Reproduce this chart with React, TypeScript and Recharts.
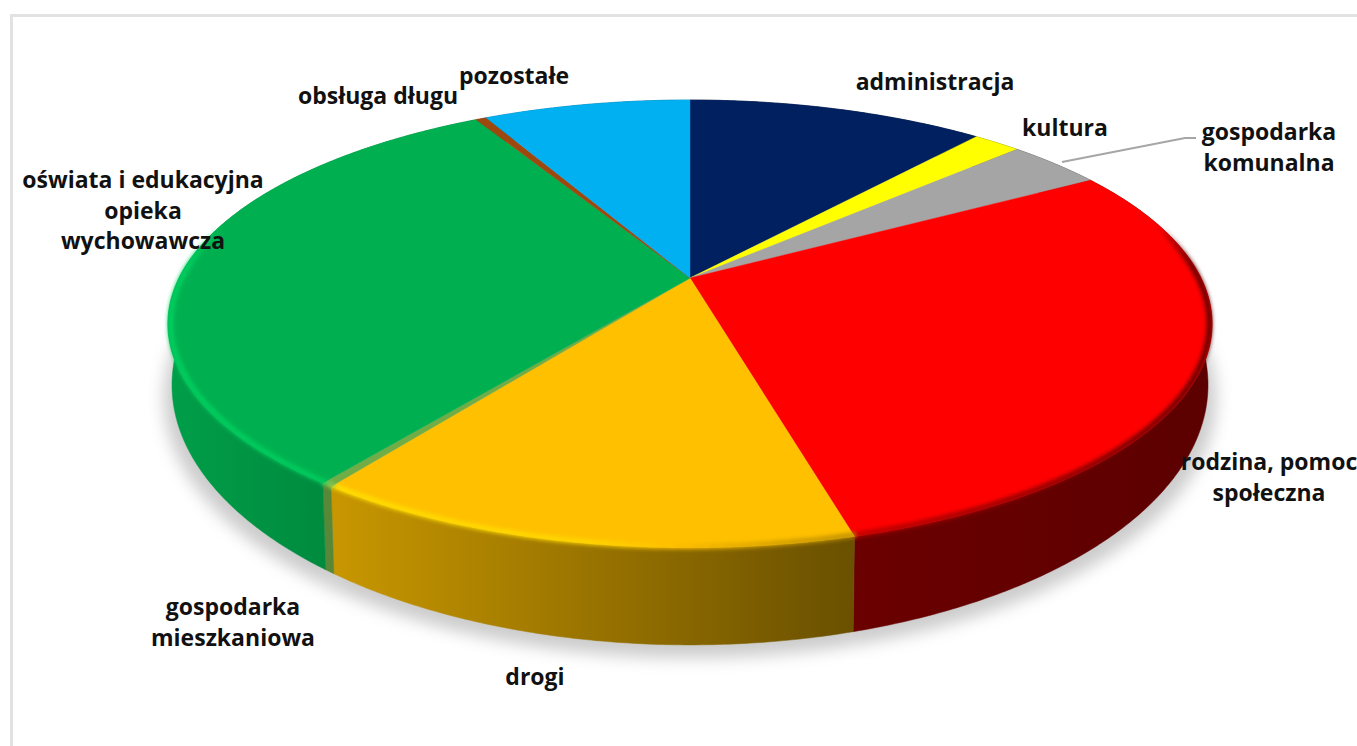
import { PieChart, Pie } from "recharts";

// budget shares in percent
const categories = [
  "administracja",
  "kultura",
  "gospodarka komunalna",
  "rodzina, pomoc społeczna",
  "drogi",
  "gospodarka mieszkaniowa",
  "oświata i edukacyjna opieka wychowawcza",
  "obsługa długu",
  "pozostałe",
];
const values = [11.2, 1.8, 3.6, 29.2, 14.1, 0.3, 31.5, 0.4, 7.8];
const colors = [
  "#002060",
  "#ffff00",
  "#a5a5a5",
  "#ff0000",
  "#ffc000",
  "#70ad47",
  "#00b050",
  "#9e480e",
  "#00b0f0",
];

const labelLines = [
  ["administracja"],
  ["kultura"],
  ["gospodarka", "komunalna"],
  ["rodzina, pomoc", "społeczna"],
  ["drogi"],
  ["gospodarka", "mieszkaniowa"],
  ["oświata i edukacyjna", "opieka", "wychowawcza"],
  ["obsługa długu"],
  ["pozostałe"],
];
// centre x and first baseline of each label
const labelSpots = [
  [935, 90],
  [1065, 136],
  [1269, 140],
  [1269, 470],
  [535, 685],
  [233, 615],
  [143, 188],
  [378, 104],
  [514, 84],
];

const data = categories.map((name, i) => ({
  name,
  value: values[i],
  fill: colors[i],
}));

// perspective of the tilted disc
const CX = 690;
const CY = 278;
const A = 511;
const B = 214.5;
const P = 0.205;
// underside of the disc, same vanishing but its own ellipse
const BASE_A = 507;
const BASE_B = 249;
const BASE_CY = 331.7;

type Disc = { a: number; b: number; cy: number };
const TOP: Disc = { a: A, b: B, cy: CY };
const BASE: Disc = { a: BASE_A, b: BASE_B, cy: BASE_CY };
const SHADOW: Disc = { a: BASE_A + 8, b: BASE_B, cy: BASE_CY + 13 };

const project = (deg: number, disc: Disc = TOP, scale = 1) => {
  const t = (deg * Math.PI) / 180;
  const w = 1 + P * Math.sin(t);
  return [
    CX + (scale * disc.a * Math.cos(t)) / w,
    disc.cy - (scale * disc.b * Math.sin(t)) / w,
  ];
};

const arcPoints = (start: number, end: number, disc: Disc = TOP) => {
  const n = Math.max(2, Math.ceil(Math.abs(end - start) / 0.5));
  const pts: number[][] = [];
  for (let i = 0; i <= n; i++) {
    pts.push(project(start + ((end - start) * i) / n, disc));
  }
  return pts;
};

const toD = (pts: number[][]) =>
  pts.map((p, i) => `${i ? "L" : "M"}${p[0].toFixed(2)} ${p[1].toFixed(2)}`).join(" ");

const shade = (hex: string, k: number) => {
  const c = [1, 3, 5].map((i) => parseInt(hex.slice(i, i + 2), 16));
  const out = c.map((v) => Math.min(255, Math.round(v * k)));
  return `rgb(${out[0]},${out[1]},${out[2]})`;
};

const lerpTable = (table: number[][], x: number) => {
  if (x <= table[0][0]) return table[0][1];
  for (let i = 1; i < table.length; i++) {
    if (x <= table[i][0]) {
      const [x0, y0] = table[i - 1];
      const [x1, y1] = table[i];
      return y0 + ((y1 - y0) * (x - x0)) / (x1 - x0);
    }
  }
  return table[table.length - 1][1];
};

const wallLight = [
  [0, 0.9],
  [0.16, 0.78],
  [0.65, 0.42],
  [1, 0.36],
];
const rimLight = [
  [170, 1.2],
  [600, 1.12],
  [800, 0.8],
  [1210, 0.35],
];

const ShadowShape = (props: any) => {
  const pts = [...arcPoints(props.startAngle, props.endAngle, SHADOW), [CX, SHADOW.cy]];
  return <path d={toD(pts) + " Z"} fill="#000" fillOpacity={0.2} filter="url(#pieShadow)" />;
};

const WallShape = (props: any) => {
  const id = "wall" + props.fill.slice(1);
  const top = arcPoints(props.startAngle, props.endAngle);
  const bottom = arcPoints(props.endAngle, props.startAngle, BASE);
  return (
    <g>
      <defs>
        <linearGradient id={id} gradientUnits="userSpaceOnUse" x1={170} x2={1210} y1={0} y2={0}>
          {wallLight.map((s) => (
            <stop key={s[0]} offset={s[0]} stopColor={shade(props.fill, s[1])} />
          ))}
        </linearGradient>
      </defs>
      <path d={toD([...top, ...bottom]) + " Z"} fill={`url(#${id})`} stroke={`url(#${id})`} strokeWidth={0.5} />
    </g>
  );
};

const TopShape = (props: any) => {
  const { fill, startAngle, endAngle } = props;
  const edge = arcPoints(startAngle, endAngle);
  const n = Math.max(1, Math.ceil(Math.abs(endAngle - startAngle) / 1.5));
  const bits = [];
  for (let i = 0; i < n; i++) {
    const a0 = startAngle + ((endAngle - startAngle) * i) / n;
    const a1 = startAngle + ((endAngle - startAngle) * (i + 1)) / n;
    const mid = (a0 + a1) / 2;
    const y = Math.sin((mid * Math.PI) / 180);
    const fade = Math.max(0, Math.min(1, (0.25 - y) / 0.2));
    if (fade <= 0) continue;
    const p0 = project(a0, TOP, 0.995);
    const p1 = project(a1, TOP, 0.995);
    bits.push(
      <line
        key={i}
        x1={p0[0]}
        y1={p0[1]}
        x2={p1[0]}
        y2={p1[1]}
        stroke={shade(fill, lerpTable(rimLight, p0[0]))}
        strokeOpacity={fade}
        strokeWidth={5}
        strokeLinecap="round"
      />
    );
  }
  return (
    <g>
      <path d={toD([[CX, CY], ...edge]) + " Z"} fill={fill} stroke={fill} strokeWidth={0.4} />
      <g filter="url(#pieRim)">{bits}</g>
    </g>
  );
};

const renderLabel = (props: any) => {
  const i = props.index;
  const [x, y] = labelSpots[i];
  return (
    <g key={i}>
      {i === 2 && (
        <polyline
          points="1062,162 1185,138 1196,138"
          fill="none"
          stroke="#a6a6a6"
          strokeWidth={2}
        />
      )}
      <text
        x={x}
        y={y}
        textAnchor="middle"
        fill="#111"
        fontFamily="'Open Sans', sans-serif"
        fontWeight={700}
        fontSize={23}
      >
        {labelLines[i].map((line, j) => (
          <tspan key={j} x={x} dy={j ? 30.5 : 0}>
            {line}
          </tspan>
        ))}
      </text>
    </g>
  );
};

const App = () => {
  const shared = {
    data,
    dataKey: "value",
    nameKey: "name",
    cx: CX,
    cy: CY,
    outerRadius: 200,
    startAngle: 90,
    endAngle: -270,
    isAnimationActive: false,
  };

  return (
    <div
      style={{
        position: "absolute",
        left: 0,
        top: 0,
        width: 1357,
        height: 746,
        overflow: "hidden",
        background: "#fff",
      }}
    >
      <div
        style={{
          position: "absolute",
          left: 10,
          top: 14,
          width: 1400,
          height: 800,
          border: "3px solid #e2e2e2",
        }}
      />
      <div style={{ position: "absolute", left: 0, top: 0 }}>
        <PieChart width={1357} height={746} margin={{ top: 0, right: 0, bottom: 0, left: 0 }}>
          <defs>
            <filter id="pieShadow" filterUnits="userSpaceOnUse" x={0} y={0} width={1357} height={746}>
              <feGaussianBlur stdDeviation={8} />
            </filter>
            <filter id="pieRim" filterUnits="userSpaceOnUse" x={0} y={0} width={1357} height={746}>
              <feGaussianBlur stdDeviation={2.2} />
            </filter>
          </defs>
          <Pie {...shared} shape={ShadowShape} />
          <Pie {...shared} shape={WallShape} />
          <Pie {...shared} shape={TopShape} label={renderLabel} labelLine={false} />
        </PieChart>
      </div>
    </div>
  );
};

export default App;
